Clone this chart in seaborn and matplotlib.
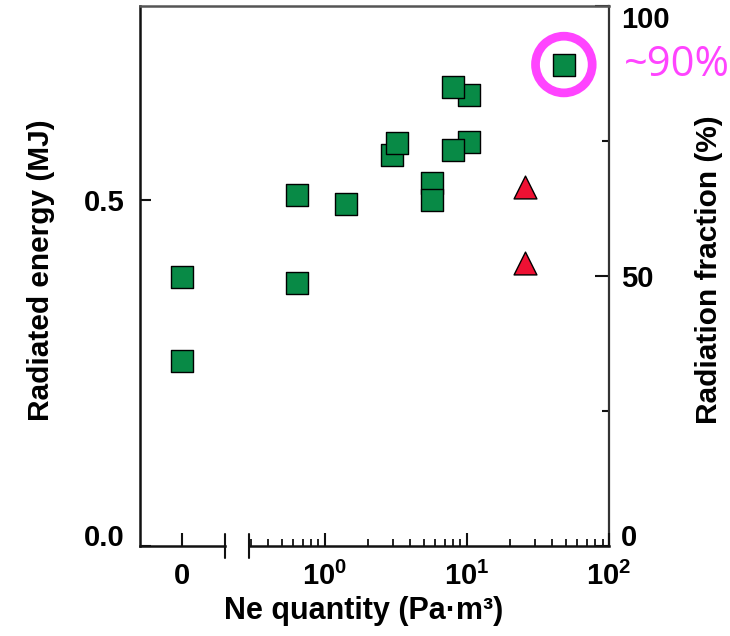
import numpy as np
import pandas as pd
import matplotlib
matplotlib.use("Agg")
import matplotlib.pyplot as plt
from matplotlib.ticker import FixedLocator, LogLocator, NullFormatter
import seaborn as sns

# Neon quantity injected (Pa·m3) and radiated energy (MJ)
ne_square = [0, 0, 0.64, 0.64, 1.41, 5.68, 5.68, 2.96, 3.21, 10.4, 7.99, 10.4, 7.99, 48.1]
energy_square = [0.388, 0.267, 0.507, 0.379, 0.494, 0.524, 0.500, 0.564, 0.581,
                 0.583, 0.572, 0.651, 0.662, 0.695]
ne_triangle = [25.5, 25.5]
energy_triangle = [0.518, 0.408]

stored_energy = 0.78          # MJ that corresponds to 100 % radiation fraction
highlight_label = "~90%"

left_ticks = [0.0, 0.5]
left_ticklabels = ["0.0", "0.5"]
right_ticks = [0, 50, 100]
right_minor_ticks = [25, 75]
zero_tick = [0]
zero_ticklabel = ["0"]
log_ticks = [1, 10, 100]
log_ticklabels = [r"$\mathbf{10^{0}}$", r"$\mathbf{10^{1}}$", r"$\mathbf{10^{2}}$"]

GREEN = "#088a46"
RED = "#ee1133"
MAGENTA = "#ff44ff"
INK = "#111111"

sns.set_style("ticks")
plt.rcParams["font.family"] = ["Liberation Sans", "DejaVu Sans"]
plt.rcParams["font.weight"] = "bold"
plt.rcParams["mathtext.fontset"] = "custom"
plt.rcParams["mathtext.bf"] = "Liberation Sans:bold"
plt.rcParams["mathtext.rm"] = "Liberation Sans:bold"
for key in ("text.color", "axes.labelcolor", "xtick.color", "ytick.color"):
    plt.rcParams[key] = "black"

W, H = 730, 636
fig = plt.figure(figsize=(W / 100, H / 100), dpi=100)


def fx(px):
    return px / W


def fy(py):
    return 1 - py / H


top, bottom = 5.7, 545.7
frame = fig.add_axes([fx(139.5), fy(bottom), fx(609) - fx(139.5), fy(top) - fy(bottom)])
ax0 = fig.add_axes([fx(139.5), fy(bottom), fx(225) - fx(139.5), fy(top) - fy(bottom)], sharey=frame)
ax1 = fig.add_axes([fx(249), fy(bottom), fx(609) - fx(249), fy(top) - fy(bottom)], sharey=frame)

TICK_FS = 21

# ---- outer frame: energy axis on the left, fraction axis on the right ----
frame.set_ylim(0, stored_energy)
frame.set_xticks([])
frame.tick_params(axis="x", bottom=False, top=False)
frame.spines["bottom"].set_visible(False)
frame.spines["right"].set_visible(False)
frame.spines["left"].set_color(INK)
frame.spines["left"].set_linewidth(1.8)
frame.spines["top"].set_color("#555555")
frame.spines["top"].set_linewidth(1.8)
frame.set_yticks(left_ticks, left_ticklabels)
frame.tick_params(axis="y", left=True, right=False, direction="in", length=8, width=1.5,
                  pad=10.4, labelsize=TICK_FS, color=INK)
frame.yaxis.get_major_ticks()[0].label1.set_va("baseline")
frame.set_ylabel("Radiated energy (MJ)", fontsize=21.5, fontweight="bold")
frame.yaxis.set_label_coords(-0.180, 0.511)
frame.set_xlabel("Ne quantity (Pa·m³)", fontsize=22, fontweight="bold")
frame.xaxis.set_label_coords(0.478, -0.093)

sec = frame.secondary_yaxis(
    "right",
    functions=(lambda e: np.asarray(e) / stored_energy * 100,
               lambda p: np.asarray(p) * stored_energy / 100))
sec.set_yticks(right_ticks)
sec.yaxis.set_minor_locator(FixedLocator(right_minor_ticks))
sec.tick_params(axis="y", which="major", direction="in", length=10, width=1.5,
                pad=8.6, labelsize=TICK_FS, color=INK)
sec.tick_params(axis="y", which="minor", direction="in", length=5, width=1.5, color=INK)
sec.spines["right"].set_color("#333333")
sec.spines["right"].set_linewidth(1.6)
rticks = sec.yaxis.get_major_ticks()
for lab in (rticks[0].label1, rticks[0].label2):
    lab.set_va("baseline")
for lab in (rticks[-1].label1, rticks[-1].label2):
    lab.set_va("top")
sec.set_ylabel("Radiation fraction (%)", fontsize=21.5, fontweight="bold")
sec.yaxis.set_label_coords(1.183, 0.511, transform=frame.transAxes)

# ---- broken x axis: a zero slot and a logarithmic part ----
for ax in (ax0, ax1):
    ax.set_facecolor("none")
    for side in ("left", "right", "top"):
        ax.spines[side].set_visible(False)
    ax.spines["bottom"].set_color(INK)
    ax.spines["bottom"].set_linewidth(1.8)
    ax.tick_params(axis="y", left=False, right=False, labelleft=False, labelright=False)

ax0.set_xlim(-1, 1)
ax0.set_xticks(zero_tick, zero_ticklabel)

ax1.set_xscale("log")
ax1.set_xlim(10 ** -0.535, 100)
ax1.set_xticks(log_ticks, log_ticklabels)
ax1.xaxis.set_minor_locator(LogLocator(base=10, subs=np.arange(2, 10)))
ax1.xaxis.set_minor_formatter(NullFormatter())

for ax in (ax0, ax1):
    ax.tick_params(axis="x", which="major", bottom=True, top=False, direction="in",
                   length=9.4, width=1.5, pad=11.5, labelsize=TICK_FS, color=INK)
    ax.tick_params(axis="x", which="minor", bottom=True, top=False, direction="in",
                   length=5, width=1.3, color=INK)

# break marks at the gap
d = 12 / (bottom - top)
for ax, xpos in ((ax0, 1), (ax1, 0)):
    ax.plot([xpos, xpos], [-d, d], transform=ax.transAxes, color=INK, lw=1.5,
            clip_on=False)

# ---- data ----
df_sq = pd.DataFrame({"ne": ne_square, "energy": energy_square})
df_tri = pd.DataFrame({"ne": ne_triangle, "energy": energy_triangle})

sq_kw = dict(marker="s", s=250, color=GREEN, edgecolor="black", linewidth=1.0,
             legend=False, zorder=3, clip_on=False)
sns.scatterplot(data=df_sq[df_sq["ne"] == 0], x="ne", y="energy", ax=ax0, **sq_kw)
sns.scatterplot(data=df_sq[df_sq["ne"] > 0], x="ne", y="energy", ax=ax1, **sq_kw)
sns.scatterplot(data=df_tri, x="ne", y="energy", ax=ax1, marker="^", s=270,
                color=RED, edgecolor="black", linewidth=1.0, legend=False, zorder=3)

for ax in (ax0, ax1):
    ax.set_xlabel("")
    ax.set_ylabel("")

# highlight of the highest radiation fraction
i_max = int(np.argmax(energy_square))
x_hi, y_hi = ne_square[i_max], energy_square[i_max]
ax1.scatter([x_hi], [y_hi], s=40.8 ** 2, facecolors="none", edgecolors=MAGENTA,
            linewidths=6.3, zorder=4, clip_on=False)
ax1.annotate(highlight_label, xy=(x_hi, y_hi), xytext=(43, 0), textcoords="offset points",
             ha="left", va="center", color=MAGENTA, fontsize=30,
             fontfamily="Open Sans", fontweight="normal", annotation_clip=False)

fig.savefig("out.png", dpi=100)
